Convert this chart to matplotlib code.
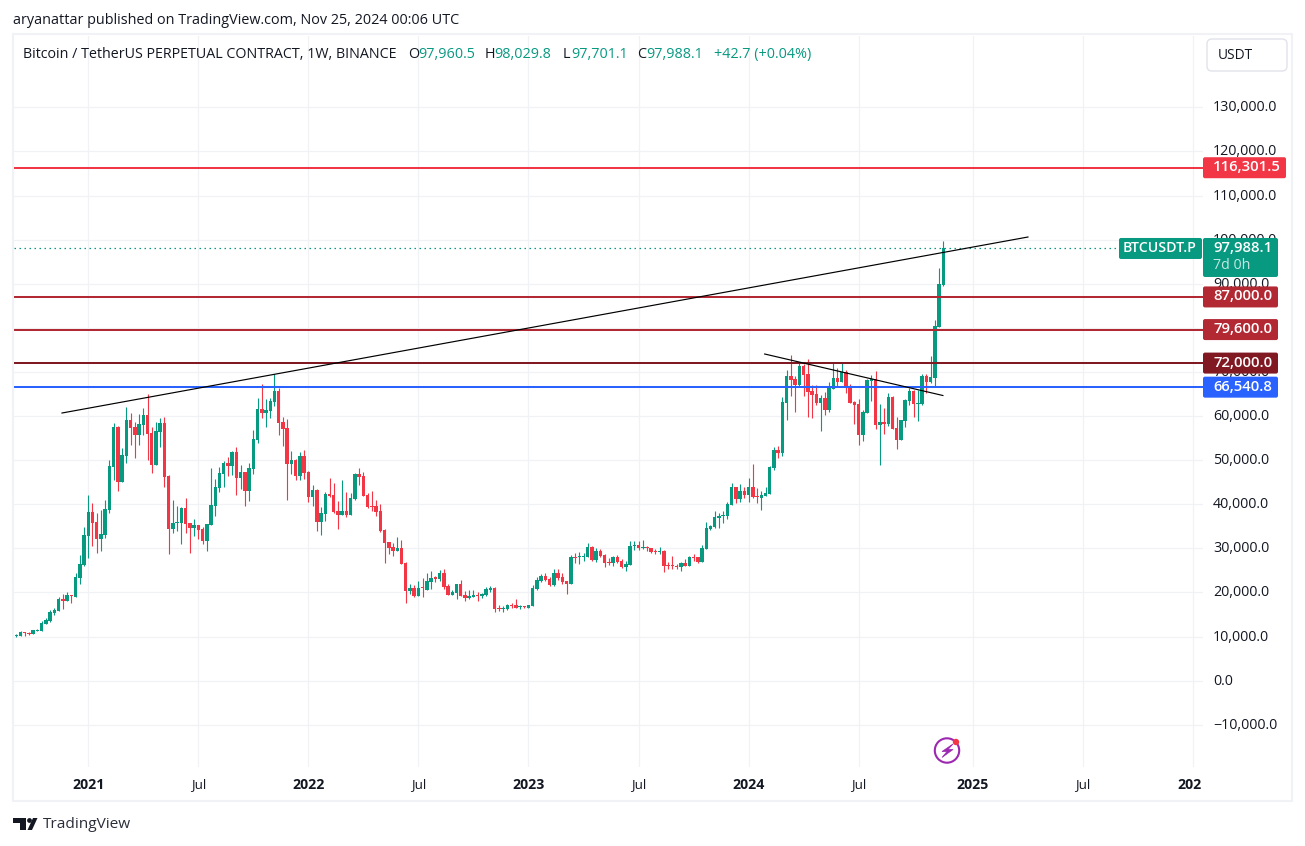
import matplotlib
matplotlib.use("Agg")
import matplotlib.pyplot as plt
from matplotlib.patches import FancyBboxPatch, Rectangle, Circle, Polygon
from matplotlib.transforms import ScaledTranslation

# Weekly candles, prices in thousands of USDT
opens_k = [
 10.17,10.1,10.93,10.78,10.55,11.31,11.23,12.82,13.5,15.3,
 15.77,18.49,18.04,19.4,18.94,23.25,26.2,32.78,38.22,35.96,
 32.1,33.0,38.68,48.43,57.5,45.03,50.92,59.09,57.5,55.69,
 57.95,60.22,56.14,48.88,56.37,58.41,46.39,34.37,35.73,35.73,
 39.13,35.73,34.59,35.27,34.37,31.64,35.27,39.58,43.67,46.84,
 49.34,48.66,51.83,45.94,47.3,42.99,47.98,54.55,61.58,60.68,
 61.13,63.17,65.67,58.64,57.27,49.11,50.02,46.39,50.93,47.3,
 41.63,43.21,35.96,37.77,42.31,42.08,38.45,37.54,38.45,37.54,
 41.17,46.84,46.39,42.08,39.59,39.59,38.45,34.14,31.42,30.29,
 29.38,30.06,26.66,20.31,21.0,19.18,21.0,20.55,22.37,23.42,
 23.05,24.41,21.46,19.42,19.87,21.91,19.42,18.74,18.96,19.42,
 19.19,19.42,20.55,21.0,16.47,16.24,16.24,17.15,17.15,16.7,
 16.92,16.47,16.92,20.78,22.59,23.73,23.05,21.69,24.41,23.5,
 22.59,21.91,28.04,28.11,28.11,28.04,30.3,27.36,29.4,28.49,
 26.9,26.68,28.04,27.13,25.77,26.22,30.53,30.76,30.08,30.3,
 30.08,29.4,29.17,29.4,26.22,26.22,25.99,25.77,26.68,25.99,
 28.04,28.04,26.9,29.85,34.38,34.84,36.88,37.33,37.33,39.83,
 43.91,41.19,43.0,42.1,43.91,41.87,41.42,41.87,42.32,48.22,
 52.3,51.62,62.96,69.09,68.41,67.04,71.42,69.6,65.74,65.07,
 63.02,64.16,61.44,66.2,68.69,67.79,70.05,66.88,63.25,62.8,
 55.77,60.76,68.01,68.47,58.03,58.71,58.26,64.38,57.35,54.63,
 58.94,63.48,65.74,62.8,62.8,69.15,67.79,68.69,80.26,89.79]
highs_k = [
 10.55,11.23,10.93,11.08,11.46,11.69,13.5,14.18,16.0,16.45,
 18.94,19.62,20.08,19.4,24.39,28.47,34.82,42.08,40.26,38.0,
 38.68,40.94,50.0,58.41,57.73,52.74,62.04,60.68,58.63,60.45,
 61.81,64.99,57.5,58.63,59.54,59.77,46.61,40.94,39.58,39.36,
 41.4,35.73,36.63,35.27,34.82,35.5,48.2,45.71,48.43,49.79,
 50.7,52.06,52.97,48.88,47.3,49.34,56.82,64.08,67.25,63.85,
 64.08,69.52,66.35,59.77,59.32,52.06,50.25,51.83,52.29,47.52,
 44.35,43.44,39.36,42.76,45.94,44.8,40.72,45.48,42.76,42.53,
 47.07,48.2,47.3,42.53,42.99,40.95,40.04,34.37,31.42,31.19,
 32.55,31.87,26.88,21.9,21.67,22.58,23.27,24.41,24.86,23.73,
 25.09,25.31,21.91,20.55,21.91,22.82,20.33,20.55,20.55,20.1,
 19.87,21.23,21.46,21.23,17.15,16.92,17.38,17.6,18.51,17.15,
 16.92,17.15,21.69,23.5,24.18,24.41,23.5,25.31,25.31,24.41,
 22.59,28.49,28.94,29.17,28.94,31.21,30.53,30.08,29.85,28.72,
 27.81,28.26,28.49,27.58,27.13,31.66,31.66,31.66,31.89,30.53,
 30.08,29.85,30.3,29.62,26.9,28.26,26.45,26.9,27.58,28.26,
 28.72,28.04,30.76,35.97,35.29,38.47,38.01,38.47,40.51,44.82,
 43.91,44.59,43.91,45.95,49.13,43.68,43.0,43.91,48.67,52.98,
 53.21,64.32,70.45,73.85,69.09,72.26,71.87,73.0,67.11,67.11,
 64.84,65.52,67.79,72.32,70.96,72.32,70.51,67.33,63.48,63.93,
 61.44,68.47,69.37,70.28,62.8,61.89,65.29,64.61,59.85,59.17,
 63.93,66.43,65.97,65.97,69.6,69.6,73.68,81.85,93.64,99.77]
lows_k = [
 9.87,10.02,10.1,10.25,10.55,11.23,11.23,12.75,13.27,14.86,
 15.77,16.22,18.04,17.58,18.94,21.89,25.98,27.79,30.51,28.92,
 29.38,32.33,38.0,45.48,43.0,45.03,49.34,53.4,50.47,53.4,
 55.69,50.0,47.07,48.88,52.96,43.89,28.7,33.46,33.91,30.96,
 33.46,28.92,32.78,32.1,30.96,29.38,35.27,37.32,42.76,43.9,
 46.39,46.62,42.08,43.44,39.59,40.72,46.84,53.87,59.54,57.5,
 59.54,62.27,55.69,53.19,40.95,46.84,45.48,45.48,45.71,40.49,
 39.59,33.92,33.01,36.18,41.63,38.0,34.37,37.54,37.09,37.54,
 40.95,44.35,41.85,39.13,38.45,37.32,33.69,26.66,28.7,28.25,
 29.38,26.43,17.59,19.63,18.95,19.18,18.96,20.55,20.78,22.37,
 22.59,20.78,19.42,19.42,18.51,19.19,18.06,18.51,18.96,18.06,
 18.74,19.19,20.1,15.56,15.79,15.56,16.0,16.47,16.47,16.24,
 16.47,16.47,16.92,20.55,22.37,22.59,21.46,21.46,22.82,21.91,
 19.64,21.91,26.68,26.45,27.13,28.04,27.13,26.9,28.04,25.77,
 26.22,26.0,26.68,25.54,24.86,26.22,29.62,29.62,29.85,29.4,
 28.94,28.72,28.72,24.63,25.31,25.31,25.31,24.86,25.99,25.99,
 27.13,26.68,26.9,29.85,34.16,34.61,34.61,35.75,36.65,39.83,
 40.28,40.51,41.42,40.51,41.42,40.28,38.69,41.87,42.32,47.77,
 50.49,50.94,59.11,64.55,60.92,66.82,64.61,59.85,59.62,62.57,
 56.67,60.3,60.98,66.2,66.88,67.79,65.29,63.02,58.26,53.5,
 54.4,60.76,63.48,57.13,48.96,55.99,57.81,57.13,52.59,54.63,
 57.58,62.57,59.85,58.94,62.57,65.29,67.56,66.65,80.26,89.56]
closes_k = [
 10.33,11.0,10.7,10.63,11.46,11.46,13.05,13.73,15.54,16.0,
 18.49,18.04,19.4,19.17,23.48,26.43,33.0,38.22,35.73,32.1,
 33.23,38.9,48.65,57.5,45.03,51.15,59.09,57.27,55.69,58.18,
 60.22,55.91,48.88,56.59,58.41,46.16,34.37,35.73,35.96,39.13,
 35.5,34.59,35.27,34.14,31.64,35.5,39.81,43.89,47.07,49.34,
 48.66,51.83,46.01,47.3,42.99,48.2,54.78,61.58,60.68,61.36,
 63.4,65.67,58.41,57.05,49.11,50.02,46.39,50.93,47.07,41.63,
 43.21,35.96,38.0,42.31,41.85,38.22,37.54,38.45,37.54,41.4,
 46.84,46.16,41.85,39.36,39.36,38.22,33.92,31.19,30.06,29.38,
 30.06,26.43,20.31,21.0,19.18,21.0,20.93,22.59,23.27,23.12,
 24.41,21.23,19.42,20.1,21.91,19.19,18.74,19.19,19.42,19.19,
 19.65,20.78,21.0,16.24,16.24,16.47,17.15,16.92,16.47,16.92,
 16.7,17.15,21.0,22.82,23.73,22.82,21.69,24.41,23.27,22.37,
 21.91,28.04,27.81,28.26,28.26,30.3,27.36,29.4,28.26,26.68,
 26.68,28.04,26.9,25.77,26.45,30.53,30.76,30.08,30.3,30.08,
 29.17,29.17,29.4,25.99,25.99,25.99,25.84,26.68,25.99,28.04,
 27.81,26.9,30.08,34.61,35.06,37.11,37.33,37.56,40.06,43.91,
 41.19,43.0,42.1,43.91,41.64,41.72,42.1,42.55,48.45,52.3,
 51.62,63.19,69.09,68.18,67.04,71.35,69.37,65.52,64.84,63.02,
 64.16,61.44,66.65,68.69,67.79,70.05,66.65,63.02,62.57,55.77,
 60.98,68.24,68.47,58.03,58.71,58.26,64.38,57.13,54.63,59.17,
 63.7,65.74,62.8,63.02,69.15,67.79,68.92,80.49,90.01,97.99]

level_prices = [116301.5, 87000.0, 79600.0, 72000.0, 66540.8]
level_labels = ["116,301.5", "87,000.0", "79,600.0", "72,000.0", "66,540.8"]
last_price = 97988.1
trend_a_x, trend_a_y = [10.8, 239.0], [60680, 100590]
trend_b_x, trend_b_y = [176.8, 218.9], [74060, 64650]
price_ticks = list(range(-10000, 130001, 10000))
time_tick_pos = [17, 43, 69, 95, 121, 147, 173, 199, 226, 252, 278]
time_tick_lab = ["2021", "Jul", "2022", "Jul", "2023", "Jul", "2024", "Jul", "2025", "Jul", "202"]

GREEN, RED = "#089981", "#F23645"
DARK = "#131722"
GRID = "#F1F2F5"
FONT = "Open Sans"
plt.rcParams["font.family"] = [FONT, "DejaVu Sans"]

W, H = 1305, 846
fig = plt.figure(figsize=(W / 100, H / 100), dpi=100, facecolor="white")
ax = fig.add_axes([14 / W, 1 - 767 / H, (1203 - 14) / W, (767 - 36) / H])
ax.set_xlim(-0.54, 280.35)
ax.set_ylim(-19590, 146170)
for s in ax.spines.values():
    s.set_visible(False)
ax.set_axisbelow(True)
ax.grid(True, color=GRID, lw=0.9)

ax.set_yticks(price_ticks)
ax.set_yticklabels([f"{v:,.1f}".replace("-", "\u2212") for v in price_ticks], fontsize=10.3, color=DARK)
ax.yaxis.tick_right()
ax.tick_params(axis="y", length=0, pad=7.2)
ax.set_xticks(time_tick_pos)
ax.set_xticklabels(time_tick_lab, fontsize=9.6, color=DARK)
ax.tick_params(axis="x", length=0, pad=8)
up = ScaledTranslation(0, 1.5 / 100, fig.dpi_scale_trans)
for lab in ax.get_yticklabels():
    lab.set_transform(lab.get_transform() + up)
for lab in ax.get_xticklabels():
    if lab.get_text() != "Jul":
        lab.set_fontweight("bold")
        lab.set_fontsize(10.2)
    if lab.get_text() == "202":
        lab.set_transform(lab.get_transform() + ScaledTranslation(-3.5 / 100, 0, fig.dpi_scale_trans))

# candles
MIN_BODY = 0.2
for i, (o, h, l, c) in enumerate(zip(opens_k, highs_k, lows_k, closes_k)):
    col = GREEN if c >= o else RED
    ax.vlines(i, l * 1000, h * 1000, color=col, lw=0.8, zorder=3)
    low_b, high_b = min(o, c), max(o, c)
    ax.bar(i, max(high_b - low_b, MIN_BODY) * 1000, bottom=low_b * 1000, width=0.82, color=col, lw=0, zorder=3)

level_colors = [RED, "#B22833", "#B22833", "#801922", "#2962FF"]
for p, c in zip(level_prices, level_colors):
    ax.axhline(p, color=c, lw=1.45, zorder=4)
ax.plot([-0.54, 260.5], [last_price, last_price], color=GREEN, lw=0.9, ls=(0, (1.2, 2.8)), zorder=2)
ax.plot(trend_a_x, trend_a_y, color="black", lw=0.85, zorder=5)
ax.plot(trend_b_x, trend_b_y, color="black", lw=0.85, zorder=5)

# overlay in pixel space
ov = fig.add_axes([0, 0, 1, 1], facecolor="none")
ov.set_xlim(0, W)
ov.set_ylim(H, 0)
ov.axis("off")

def py(price):
    return H - ax.transData.transform((0, price))[1]

def tag(x0, x1, y0, y1, col):
    ov.add_patch(FancyBboxPatch((x0 + 1, y0 + 1), x1 - x0 - 2, y1 - y0 - 2, boxstyle="round,pad=1,rounding_size=2",
                                fc=col, ec="none", zorder=5))

def txt(x, y, s, color=DARK, size=10.3, **kw):
    kw.setdefault("va", "center")
    ov.text(x, y, s, color=color, fontsize=size, zorder=7, **kw)

ov.add_patch(Rectangle((13, 34.5), 1279, 767, fc="none", ec=GRID, lw=1.5, zorder=1))

for p, s, c in zip(level_prices, level_labels, level_colors):
    y = py(p)
    x1 = 1286 if p > 100000 else 1278
    tag(1203, x1, y - 10.5, y + 10.5, c)
    txt(1213, y - 0.5, s, color="white", size=10.7, fontweight="semibold")

yl = py(last_price)
tag(1203, 1278, yl - 10.5, yl + 28.5, GREEN)
txt(1213, yl - 0.5, "97,988.1", color="white", size=10.7, fontweight="semibold")
txt(1213, yl + 17.5, "7d 0h", color="#C5E8E1", size=10.3)
tag(1119, 1202, yl - 10.5, yl + 10.5, GREEN)
txt(1123, yl - 0.5, "BTCUSDT.P", color="white", size=10.2, fontweight="semibold")

# USDT button
ov.add_patch(FancyBboxPatch((1210, 42), 74, 26, boxstyle="round,pad=3,rounding_size=5", fc="white", ec="#E0E3EB", lw=1, zorder=5))
txt(1218, 55.5, "USDT", size=9.9)

# headers
txt(13, 20.5, "aryanattar published on TradingView.com, Nov 25, 2024 00:06 UTC", size=10.4)
txt(23, 54.5, "Bitcoin / TetherUS PERPETUAL CONTRACT, 1W, BINANCE", size=10.3)
for x, s, c in [(408, "O", DARK), (418, "97,960.5", GREEN), (485, "H", DARK), (494, "98,029.8", GREEN),
                (563, "L", DARK), (571, "97,701.1", GREEN), (637, "C", DARK), (646, "97,988.1", GREEN),
                (714, "+42.7 (+0.04%)", GREEN)]:
    txt(x, 54.5, s, color=c, size=10.4)

# bolt icon
ov.add_patch(Circle((947, 750.5), 12.2, fc="white", ec="#9C27B0", lw=1.5, zorder=6))
ov.add_patch(Polygon([(953, 744), (942, 751.5), (947, 751.5), (942, 757.5), (953, 749.5), (948, 749.5)],
                     fc="#9C27B0", ec="#9C27B0", lw=0.5, zorder=7))
ov.add_patch(Circle((956, 742), 3.2, fc=RED, ec="none", zorder=8))

# logo
ov.add_patch(Polygon([(13, 818), (26, 818), (26, 830), (20, 830), (20, 823), (13, 823)], fc=DARK, ec="none", zorder=6))
ov.add_patch(Circle((29.5, 820.5), 2.4, fc=DARK, ec="none", zorder=6))
ov.add_patch(Polygon([(27.5, 830), (32, 830), (37.5, 818), (33, 818)], fc=DARK, ec="none", zorder=6))
txt(43, 825, "TradingView", color="#2A2E39", size=11.1)

fig.savefig("out.png", dpi=100, facecolor="white")
